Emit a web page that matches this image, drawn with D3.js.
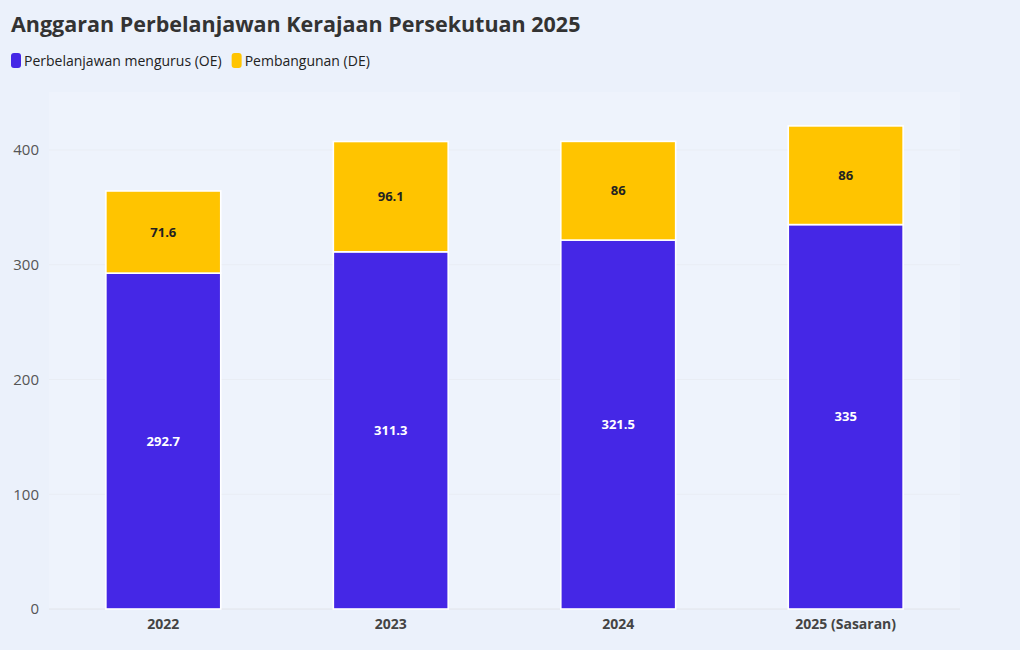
<!DOCTYPE html>
<html>
  <head>
    <meta charset="utf-8">
    <title>Anggaran Perbelanjawan</title>
    <style>
      body { margin: 0; background: #ebf1fb; font-family: "Open Sans", "Noto Sans", sans-serif; }
    </style>
  </head>
  <body>
    <div id="container"></div>
    <script src="https://cdn.jsdelivr.net/npm/d3@7"></script>
    <script>
      // data
      var years = ["2022", "2023", "2024", "2025 (Sasaran)"];
      var oeValues = [292.7, 311.3, 321.5, 335];
      var deValues = [71.6, 96.1, 86, 86];
      var seriesNames = ["Perbelanjawan mengurus (OE)", "Pembangunan (DE)"];
      var seriesColors = ["#4527e6", "#ffc400"];
      var yTicks = [0, 100, 200, 300, 400];

      var W = 1020, H = 650;
      var margin = {top: 92, right: 60, bottom: 41, left: 49};
      var width = W - margin.left - margin.right,
          height = H - margin.top - margin.bottom;

      var svg = d3.select("#container").append("svg")
        .attr("width", W)
        .attr("height", H)
        .style("display", "block");

      svg.append("rect").attr("width", W).attr("height", H).attr("fill", "#ebf1fb");

      svg.append("text")
        .attr("x", 11).attr("y", 32)
        .style("font-size", "21.5px").style("font-weight", "700")
        .attr("fill", "#333")
        .text("Anggaran Perbelanjawan Kerajaan Persekutuan 2025");

      // legend
      var lg = svg.append("g").attr("transform", "translate(11,61)");
      var lx = 0;
      seriesNames.forEach(function(n, i) {
        var g = lg.append("g").attr("transform", "translate(" + lx + ",0)");
        g.append("rect").attr("x", 0).attr("y", -8).attr("width", 10).attr("height", 15)
          .attr("rx", 3).attr("fill", seriesColors[i]);
        var t = g.append("text").attr("x", 13).attr("y", 5)
          .style("font-size", "14px").attr("fill", "#222").text(n);
        lx += 13 + t.node().getComputedTextLength() + 10;
      });

      var chart = svg.append("g")
        .attr("transform", "translate(" + margin.left + "," + margin.top + ")");

      chart.append("rect").attr("width", width).attr("height", height).attr("fill", "#eef3fc");

      var x = d3.scaleBand().domain(years).range([0, width]).paddingInner(0.495).paddingOuter(0.25);
      var y = d3.scaleLinear().domain([0, 400]).range([height, height - 400 * 1.1475]);

      // gridlines
      chart.selectAll(".grid").data(yTicks).enter().append("line")
        .attr("x1", 0).attr("x2", width)
        .attr("y1", function(d) { return y(d); })
        .attr("y2", function(d) { return y(d); })
        .attr("stroke", function(d) { return d === 0 ? "#e2e4ea" : "#e9edf4"; })
        .attr("stroke-width", 1);

      // y axis labels
      chart.selectAll(".ytick").data(yTicks).enter().append("text")
        .attr("x", -10)
        .attr("y", function(d) { return y(d); })
        .attr("dy", "0.35em")
        .attr("text-anchor", "end")
        .style("font-size", "15px")
        .attr("fill", "#555")
        .text(function(d) { return d; });

      var stacked = years.map(function(yr, i) {
        return {year: yr, oe: oeValues[i], de: deValues[i]};
      });
      var stack = d3.stack().keys(["oe", "de"])(stacked);

      chart.selectAll(".series").data(stack).enter().append("g")
        .attr("fill", function(d, i) { return seriesColors[i]; })
        .selectAll("rect").data(function(d) { return d; }).enter().append("rect")
          .attr("x", function(d) { return x(d.data.year); })
          .attr("width", x.bandwidth())
          .attr("y", function(d) { return y(d[1]); })
          .attr("height", function(d) { return y(d[0]) - y(d[1]); })
          .attr("stroke", "#fff")
          .attr("stroke-width", 1.6);

      // value labels
      stack.forEach(function(s, si) {
        chart.selectAll(".lbl" + si).data(s).enter().append("text")
          .attr("x", function(d) { return x(d.data.year) + x.bandwidth() / 2; })
          .attr("y", function(d) { return (y(d[0]) + y(d[1])) / 2; })
          .attr("dy", "0.35em")
          .attr("text-anchor", "middle")
          .style("font-size", "13px").style("font-weight", "700")
          .attr("fill", si === 0 ? "#fff" : "#222")
          .text(function(d) { return d[1] - d[0] === Math.round(d[1] - d[0]) ? d[1] - d[0] : d3.format(".1f")(d[1] - d[0]); });
      });

      // x axis labels
      chart.selectAll(".xtick").data(years).enter().append("text")
        .attr("x", function(d) { return x(d) + x.bandwidth() / 2; })
        .attr("y", height + 20)
        .attr("text-anchor", "middle")
        .style("font-size", "14px").style("font-weight", "700")
        .attr("fill", "#444")
        .text(function(d) { return d; });
    </script>
  </body>
</html>
